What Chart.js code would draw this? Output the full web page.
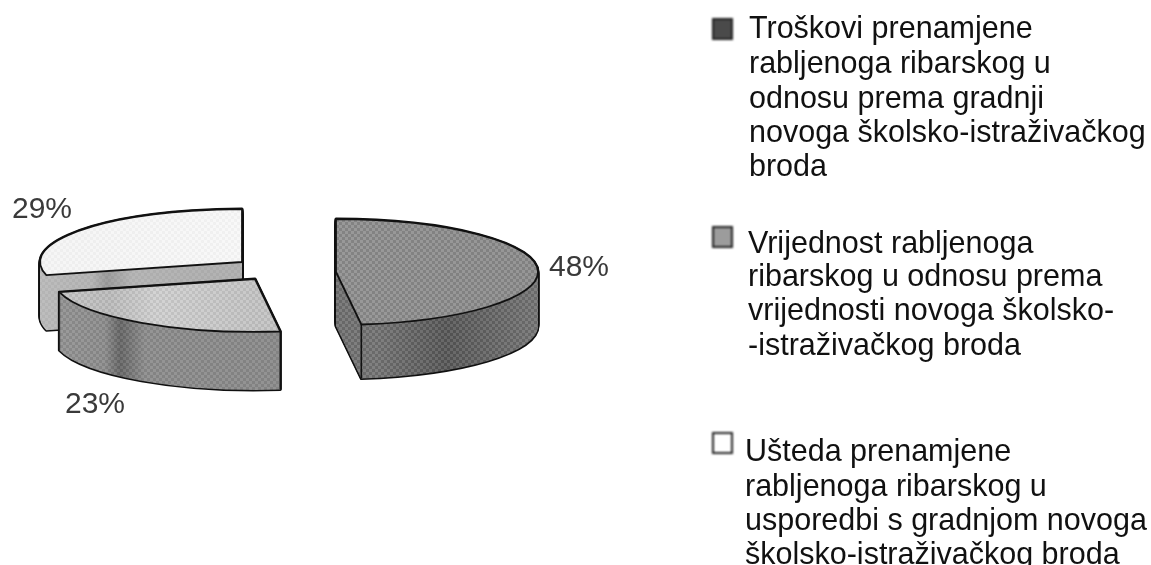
<!DOCTYPE html>
<html>
<head>
<meta charset="utf-8">
<script src="https://cdn.jsdelivr.net/npm/chart.js@4/dist/chart.umd.min.js"></script>
<style>
html,body{margin:0;padding:0;background:#fff;width:1151px;height:565px;overflow:hidden}
#wrap{position:relative;width:1151px;height:565px;overflow:hidden}
canvas{position:absolute;left:0;top:0;filter:blur(.6px)}
.t{position:absolute;font-family:"Liberation Sans",Arial,sans-serif;font-size:30.5px;line-height:30px;color:#111;white-space:nowrap;filter:blur(.5px)}
.s{position:absolute;width:21px;height:22px;box-sizing:border-box;border:2px solid #222;filter:blur(.8px)}
</style>
</head>
<body>
<div id="wrap"><canvas id="c" width="1151" height="565"></canvas></div>
<script>
const categories = ['Troškovi', 'Vrijednost', 'Ušteda'];
const values = [48, 23, 29];
const legendLines = [
  ['Troškovi prenamjene','rabljenoga ribarskog u','odnosu prema gradnji','novoga školsko-istraživačkog','broda'],
  ['Vrijednost rabljenoga','ribarskog u odnosu prema','vrijednosti novoga školsko-','-istraživačkog broda'],
  ['Ušteda prenamjene','rabljenoga ribarskog u','usporedbi s gradnjom novoga','školsko-istraživačkog broda']
];
// style only
const lineTops = [[12,47,82,116,150],[227,260,294,329],[435,470,504,538]];
const lineLeft = [749,748,745];
const swatchPos = [[712,18],[712,226],[712,432]];
const swatchFill = ['#4a4a4a','#9c9c9c','#ffffff'];
const explode = [[36,2],[-45,9],[-58,-8]];
const depths = [54,58,55];
const labelPos = [[579,268],[95,405],[42,210]];
const patternAlpha = [0.75,0.6,0.3];
const topStops = [
  [[-300,'#9a9a9a'],[0,'#8e8e8e'],[260,'#8a8a8a']],
  [[-300,'#d4d4d4'],[-145,'#bcbcbc'],[-100,'#d0d0d0'],[0,'#c4c4c4']],
  [[-300,'#f4f4f4'],[0,'#f8f8f8']]
];
const sideStops = [
  [[-20,'#6e6e6e'],[40,'#737373'],[110,'#575757'],[240,'#808080']],
  [[-250,'#9a9a9a'],[-150,'#8c8c8c'],[-135,'#666666'],[-110,'#8c8c8c'],[-20,'#8a8a8a']],
  [[-260,'#c2c2c2'],[-150,'#b4b4b4'],[-135,'#9a9a9a'],[-110,'#b4b4b4'],[-50,'#b0b0b0']]
];
const drawOrder = [2,0,1];
const squash = 0.262;

const wrap = document.getElementById('wrap');
legendLines.forEach((block,b)=>{
  const s=document.createElement('div');s.className='s';
  s.style.left=swatchPos[b][0]+'px';s.style.top=swatchPos[b][1]+'px';s.style.background=swatchFill[b];
  wrap.appendChild(s);
  block.forEach((line,i)=>{
    const d=document.createElement('div');d.className='t';d.textContent=line;
    d.style.left=lineLeft[b]+'px';d.style.top=lineTops[b][i]+'px';
    wrap.appendChild(d);
  });
});

function halftone(ctx){
  const p=document.createElement('canvas');p.width=p.height=6;
  const g=p.getContext('2d');
  g.fillStyle='rgba(255,255,255,.13)';g.fillRect(0,0,3,3);g.fillRect(3,3,3,3);
  g.fillStyle='rgba(0,0,0,.10)';g.fillRect(3,0,3,3);g.fillRect(0,3,3,3);
  return ctx.createPattern(p,'repeat');
}
const pie3d={
  id:'pie3d',
  beforeDatasetDraw(chart,args){
    const ctx=chart.ctx, arcs=args.meta.data, pat=halftone(ctx);
    const sub=(el,dx,dy)=>{
      ctx.save();
      ctx.translate(el.x+dx,el.y+dy);ctx.scale(1,squash);
      ctx.moveTo(0,0);ctx.arc(0,0,el.outerRadius,el.startAngle,el.endAngle);ctx.closePath();
      ctx.restore();
    };
    const trace=(el,dx,dy)=>{ctx.beginPath();sub(el,dx,dy);};
    const grad=(x,stops)=>{
      const a=stops[0][0],b=stops[stops.length-1][0];
      const g=ctx.createLinearGradient(x+a,0,x+b,0);
      stops.forEach(s=>g.addColorStop((s[0]-a)/(b-a),s[1]));
      return g;
    };
    drawOrder.forEach(i=>{
      const el=arcs[i],[ex,ey]=explode[i],depth=depths[i];
      const ax=el.x+ex;
      // silhouette of the extruded slice
      ctx.strokeStyle='#111';ctx.lineWidth=3;ctx.lineJoin='round';
      for(let d=depth;d>=0;d--){trace(el,ex,ey+d);ctx.stroke();}
      const side=grad(ax,sideStops[i]);
      ctx.fillStyle=side;
      for(let d=depth;d>=0;d--){trace(el,ex,ey+d);ctx.fill();}
      // halftone over the side wall
      ctx.beginPath();
      for(let d=depth;d>=0;d--){sub(el,ex,ey+d);}
      ctx.globalAlpha=patternAlpha[i];
      ctx.fillStyle=pat;ctx.fill('nonzero');
      ctx.globalAlpha=1;
      // vertical edge at the corner of the arc nearest the viewer
      const cornerAngle=i===2?null:(i===0?el.endAngle:el.startAngle);
      if(cornerAngle!==null){
        const cx=ax+Math.cos(cornerAngle)*el.outerRadius, cy=el.y+ey+Math.sin(cornerAngle)*el.outerRadius*squash;
        ctx.strokeStyle='#111';ctx.lineWidth=1.6;
        ctx.beginPath();ctx.moveTo(cx,cy);ctx.lineTo(cx,cy+depth);ctx.stroke();
      }
      // top surface
      trace(el,ex,ey);
      ctx.fillStyle=grad(ax,topStops[i]);ctx.fill();
      ctx.globalAlpha=patternAlpha[i];
      ctx.fillStyle=pat;ctx.fill();
      ctx.globalAlpha=1;
      ctx.strokeStyle='#111';ctx.lineWidth=1.8;ctx.stroke();
    });
    // percentage labels
    ctx.save();
    ctx.font='30px "Liberation Sans", Arial, sans-serif';
    ctx.fillStyle='#3a3a3a';ctx.textAlign='center';ctx.textBaseline='middle';
    values.forEach((v,i)=>ctx.fillText(v+'%',labelPos[i][0],labelPos[i][1]));
    ctx.restore();
    return false;
  }
};
new Chart(document.getElementById('c'),{
  type:'pie',
  data:{labels:categories,datasets:[{data:values,backgroundColor:swatchFill,borderWidth:0}]},
  options:{
    responsive:false,animation:false,radius:202,
    layout:{padding:{left:0,top:0,right:551,bottom:25}},
    plugins:{legend:{display:false},tooltip:{enabled:false}}
  },
  plugins:[pie3d]
});
</script>
</body>
</html>
